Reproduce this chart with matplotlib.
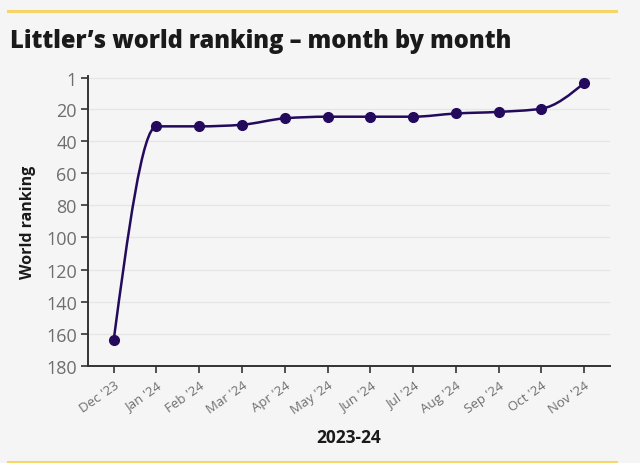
import numpy as np
import matplotlib.pyplot as plt
from matplotlib.path import Path
from matplotlib.patches import PathPatch
from matplotlib.lines import Line2D

# ------------------------------------------------------------
# Data: Littler's world ranking, month by month
# ------------------------------------------------------------
months = ["Dec '23", "Jan '24", "Feb '24", "Mar '24", "Apr '24", "May '24",
          "Jun '24", "Jul '24", "Aug '24", "Sep '24", "Oct '24", "Nov '24"]
ranking = [164, 31, 31, 30, 26, 25, 25, 25, 23, 22, 20, 4]
y_ticks = [1, 20, 40, 60, 80, 100, 120, 140, 160, 180]

BG = '#f5f5f5'
LINE = '#230a5c'
GREY = '#6e6e6e'
DARK = '#1a1a1a'
YELLOW = '#f6d667'

plt.rcParams['font.family'] = ['Open Sans', 'DejaVu Sans']


def monotone_path(xs, ys):
    # smooth monotone-x curve (same idea as d3.curveMonotoneX) as Bezier path
    xs = np.asarray(xs, float)
    ys = np.asarray(ys, float)
    n = len(xs)
    s = np.diff(ys) / np.diff(xs)
    t = np.zeros(n)
    for i in range(1, n - 1):
        h0, h1 = xs[i] - xs[i - 1], xs[i + 1] - xs[i]
        p = (s[i - 1] * h1 + s[i] * h0) / (h0 + h1)
        t[i] = (np.sign(s[i - 1]) + np.sign(s[i])) * min(abs(s[i - 1]), abs(s[i]), 0.5 * abs(p))
    t[0] = (3 * s[0] - t[1]) / 2
    t[-1] = (3 * s[-1] - t[-2]) / 2
    verts = [(xs[0], ys[0])]
    codes = [Path.MOVETO]
    for i in range(n - 1):
        dx = (xs[i + 1] - xs[i]) / 3
        verts += [(xs[i] + dx, ys[i] + dx * t[i]),
                  (xs[i + 1] - dx, ys[i + 1] - dx * t[i + 1]),
                  (xs[i + 1], ys[i + 1])]
        codes += [Path.CURVE4] * 3
    return Path(verts, codes)


fig = plt.figure(figsize=(6.4, 4.64), dpi=100, facecolor=BG)
ax = fig.add_axes([0.1375, 0.209, 0.8155, 0.624], facecolor=BG)

x = np.arange(len(months))
ax.add_patch(PathPatch(monotone_path(x, ranking), facecolor='none',
                       edgecolor=LINE, lw=1.8, zorder=3))
ax.plot(x, ranking, ls='none', marker='o', ms=7, color=LINE, zorder=4)

ax.set_xlim(-0.6, len(months) - 1 + 0.6)
ax.set_ylim(180, 0)
ax.set_yticks(y_ticks)
ax.set_xticks(x)
ax.set_xticklabels(months, rotation=35, ha='right', rotation_mode='anchor',
                   fontsize=9.5, color=GREY)
ax.tick_params(axis='y', labelsize=13, labelcolor=GREY, length=5,
               width=1.2, color='#333333', pad=3)
ax.tick_params(axis='x', length=5, width=1.2, color='#333333', pad=4)

for sp in ['top', 'right']:
    ax.spines[sp].set_visible(False)
for sp in ['left', 'bottom']:
    ax.spines[sp].set_color('#333333')
    ax.spines[sp].set_linewidth(1.4)

ax.yaxis.grid(True, color='#e6e6e6', lw=1)
ax.set_axisbelow(True)

ax.set_ylabel('World ranking', fontsize=11.5, fontweight='bold', color=DARK, labelpad=7)
ax.set_xlabel('2023-24', fontsize=12.5, fontweight='bold', color=DARK, labelpad=8)

fig.text(0.016, 0.91, "Littler\u2019s world ranking \u2013 month by month",
         fontsize=17, fontweight='heavy', color=DARK, va='center', ha='left')

fig.add_artist(Line2D([0.0125, 0.9625], [0.974, 0.974], color=YELLOW, lw=2.2))
fig.add_artist(Line2D([0.0125, 0.9625], [0.002, 0.002], color=YELLOW, lw=2.2))

fig.savefig('out.png', dpi=100, facecolor=BG)
